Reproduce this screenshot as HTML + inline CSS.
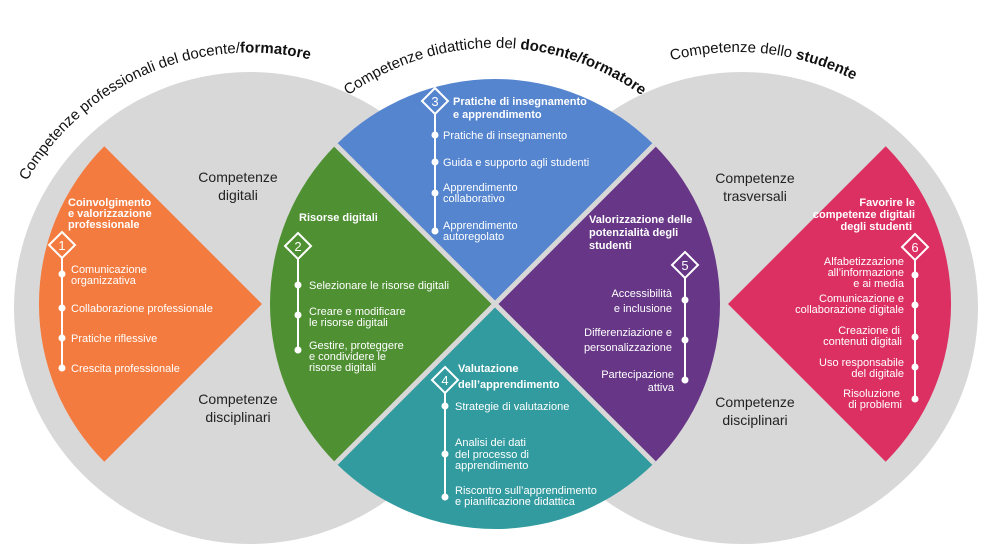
<!DOCTYPE html>
<html><head><meta charset="utf-8"><style>
html,body{margin:0;padding:0;background:#fff;}
svg{display:block;}
text{font-family:"Liberation Sans",sans-serif;}
.w{fill:#fff;font-size:11px;}
.b{fill:#fff;font-size:11px;font-weight:bold;}
.k{fill:#222;font-size:14px;}
.n{fill:#fff;font-size:13px;}
.t{fill:#111;font-size:15px;}
</style></head><body>
<svg width="992" height="558" viewBox="0 0 992 558" xmlns="http://www.w3.org/2000/svg">
<defs>
<path id="a1" d="M 27,181 A 258 258 0 0 1 379,87"/>
<path id="a2" d="M 330,110 A 250 250 0 0 1 660,110"/>
<path id="a3" d="M 620,80 A 258 258 0 0 1 900,110"/>
</defs>
<circle cx="250" cy="308" r="236" fill="#d9d8d9"/>
<circle cx="742" cy="308" r="236" fill="#d9d8d9"/>
<path d="M262,304 L104.3,146.3 A223 223 0 0 0 104.3,461.7 Z" fill="#f47b3f"/>
<path d="M728,304 L885.7,146.3 A223 223 0 0 1 885.7,461.7 Z" fill="#dc3063"/>
<path d="M495,304 L335.9,144.9 A225 225 0 0 1 654.1,144.9 Z" fill="#5585cf"/>
<path d="M495,304 L654.1,144.9 A225 225 0 0 1 654.1,463.1 Z" fill="#673686"/>
<path d="M495,304 L654.1,463.1 A225 225 0 0 1 335.9,463.1 Z" fill="#329b9f"/>
<path d="M495,304 L335.9,463.1 A225 225 0 0 1 335.9,144.9 Z" fill="#4f9033"/>
<line x1="335.9" y1="144.9" x2="654.1" y2="463.1" stroke="#d9d8d9" stroke-width="5"/>
<line x1="654.1" y1="144.9" x2="335.9" y2="463.1" stroke="#d9d8d9" stroke-width="5"/>

<text class="t"><textPath href="#a1" startOffset="0">Competenze professionali del docente/<tspan font-weight="bold">formatore</tspan></textPath></text>
<text class="t" font-size="13.5"><textPath href="#a2" startOffset="50%" text-anchor="middle">Competenze didattiche del <tspan font-weight="bold">docente/formatore</tspan></textPath></text>
<text class="t" font-size="14"><textPath href="#a3" startOffset="50%" text-anchor="middle">Competenze dello <tspan font-weight="bold">studente</tspan></textPath></text>

<g text-anchor="middle" class="k">
<text x="238" y="182" class="k">Competenze</text><text x="238" y="200" class="k">digitali</text>
<text x="238" y="404" class="k">Competenze</text><text x="238" y="422" class="k">disciplinari</text>
<text x="755" y="183" class="k">Competenze</text><text x="755" y="201" class="k">trasversali</text>
<text x="755" y="407" class="k">Competenze</text><text x="755" y="425" class="k">disciplinari</text>
</g>

<g stroke="#fff" stroke-width="2" fill="none">
<line x1="62" y1="258" x2="62" y2="369"/>
<line x1="298" y1="259" x2="298" y2="350"/>
<line x1="435" y1="114" x2="435" y2="232"/>
<line x1="685" y1="278" x2="685" y2="380"/>
<line x1="445" y1="393" x2="445" y2="497"/>
<line x1="915" y1="260" x2="915" y2="400"/>
<path d="M62,232 l13,13 l-13,13 l-13,-13 Z"/>
<path d="M298,233 l13,13 l-13,13 l-13,-13 Z"/>
<path d="M435,88 l13,13 l-13,13 l-13,-13 Z"/>
<path d="M685,252 l13,13 l-13,13 l-13,-13 Z"/>
<path d="M445,367 l13,13 l-13,13 l-13,-13 Z"/>
<path d="M915,234 l13,13 l-13,13 l-13,-13 Z"/>
</g>
<g fill="#fff">
<circle cx="62" cy="274" r="3.5"/><circle cx="62" cy="308" r="3.5"/><circle cx="62" cy="338" r="3.5"/><circle cx="62" cy="368" r="3.5"/>
<circle cx="298" cy="285" r="3.5"/><circle cx="298" cy="315" r="3.5"/><circle cx="298" cy="350" r="3.5"/>
<circle cx="435" cy="135" r="3.5"/><circle cx="435" cy="162" r="3.5"/><circle cx="435" cy="193" r="3.5"/><circle cx="435" cy="231" r="3.5"/>
<circle cx="685" cy="300" r="3.5"/><circle cx="685" cy="340" r="3.5"/><circle cx="685" cy="380" r="3.5"/>
<circle cx="445" cy="406" r="3.5"/><circle cx="445" cy="454" r="3.5"/><circle cx="445" cy="497" r="3.5"/>
<circle cx="915" cy="275" r="3.5"/><circle cx="915" cy="305" r="3.5"/><circle cx="915" cy="337" r="3.5"/><circle cx="915" cy="367" r="3.5"/><circle cx="915" cy="399" r="3.5"/>
</g>
<g text-anchor="middle">
<text class="n" x="62" y="250">1</text><text class="n" x="298" y="251">2</text><text class="n" x="435" y="106">3</text>
<text class="n" x="685" y="270">5</text><text class="n" x="445" y="385">4</text><text class="n" x="915" y="252">6</text>
</g>

<text class="b" x="68" y="206">Coinvolgimento</text><text class="b" x="68" y="217">e valorizzazione</text><text class="b" x="68" y="228">professionale</text>
<text class="w" x="71" y="273">Comunicazione</text><text class="w" x="71" y="284">organizzativa</text>
<text class="w" x="71" y="312">Collaborazione professionale</text>
<text class="w" x="71" y="342">Pratiche riflessive</text>
<text class="w" x="71" y="372">Crescita professionale</text>

<text class="b" x="299" y="221">Risorse digitali</text>
<text class="w" x="309" y="289">Selezionare le risorse digitali</text>
<text class="w" x="309" y="315">Creare e modificare</text><text class="w" x="309" y="326">le risorse digitali</text>
<text class="w" x="309" y="349">Gestire, proteggere</text><text class="w" x="309" y="360">e condividere le</text><text class="w" x="309" y="371">risorse digitali</text>

<text class="b" x="453" y="105">Pratiche di insegnamento</text><text class="b" x="453" y="118">e apprendimento</text>
<text class="w" x="443" y="139">Pratiche di insegnamento</text>
<text class="w" x="443" y="166">Guida e supporto agli studenti</text>
<text class="w" x="443" y="191">Apprendimento</text><text class="w" x="443" y="202">collaborativo</text>
<text class="w" x="443" y="229">Apprendimento</text><text class="w" x="443" y="240">autoregolato</text>

<text class="b" x="589" y="223">Valorizzazione delle</text><text class="b" x="589" y="236">potenzialità degli</text><text class="b" x="589" y="249">studenti</text>
<g text-anchor="end">
<text class="w" x="672" y="297">Accessibilità</text><text class="w" x="672" y="312">e inclusione</text>
<text class="w" x="672" y="336">Differenziazione e</text><text class="w" x="672" y="351">personalizzazione</text>
<text class="w" x="674" y="378">Partecipazione</text><text class="w" x="674" y="391">attiva</text>
</g>

<text class="b" x="458" y="372">Valutazione</text><text class="b" x="458" y="388">dell’apprendimento</text>
<text class="w" x="455" y="410">Strategie di valutazione</text>
<text class="w" x="455" y="446">Analisi dei dati</text><text class="w" x="455" y="458">del processo di</text><text class="w" x="455" y="469">apprendimento</text>
<text class="w" x="455" y="494">Riscontro sull’apprendimento</text><text class="w" x="455" y="505">e pianificazione didattica</text>

<g text-anchor="end">
<text class="b" x="915" y="206">Favorire le</text><text class="b" x="915" y="218">competenze digitali</text><text class="b" x="912" y="230">degli studenti</text>
<text class="w" x="904" y="265">Alfabetizzazione</text><text class="w" x="904" y="276">all’informazione</text><text class="w" x="904" y="287">e ai media</text>
<text class="w" x="904" y="302">Comunicazione e</text><text class="w" x="904" y="313">collaborazione digitale</text>
<text class="w" x="900" y="334">Creazione di</text><text class="w" x="902" y="345">contenuti digitali</text>
<text class="w" x="904" y="366">Uso responsabile</text><text class="w" x="904" y="377">del digitale</text>
<text class="w" x="900" y="397">Risoluzione</text><text class="w" x="902" y="408">di problemi</text>
</g>
</svg>
</body></html>
